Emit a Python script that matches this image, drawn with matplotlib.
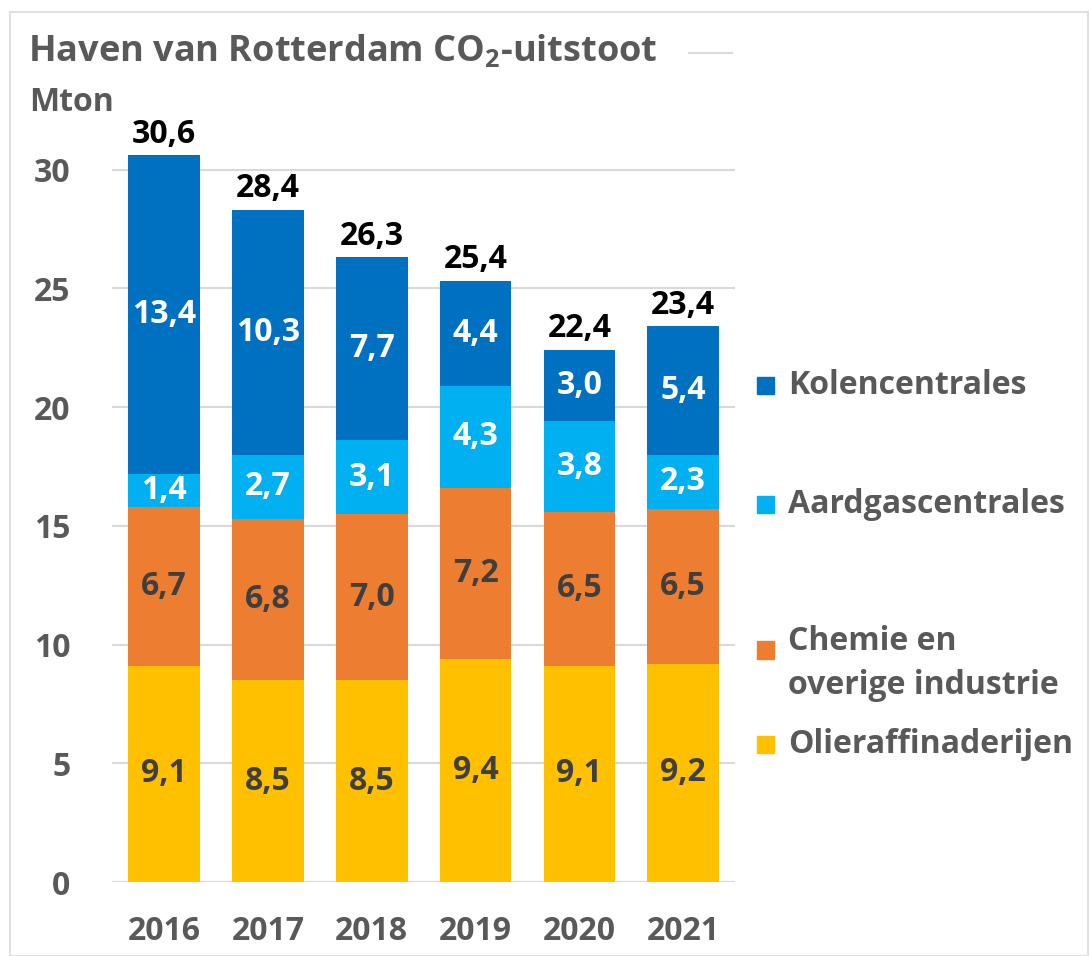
import numpy as np
from matplotlib import pyplot as plt
from matplotlib.patches import Rectangle

years = ['2016', '2017', '2018', '2019', '2020', '2021']
olie = [9.1, 8.5, 8.5, 9.4, 9.1, 9.2]
chemie = [6.7, 6.8, 7.0, 7.2, 6.5, 6.5]
aardgas = [1.4, 2.7, 3.1, 4.3, 3.8, 2.3]
kolen = [13.4, 10.3, 7.7, 4.4, 3.0, 5.4]
totals = [30.6, 28.4, 26.3, 25.4, 22.4, 23.4]

series = [
    ('Olieraffinaderijen', olie, '#FFC000', '#3F3F3F'),
    ('Chemie en\noverige industrie', chemie, '#ED7D31', '#3F3F3F'),
    ('Aardgascentrales', aardgas, '#00B0F0', 'white'),
    ('Kolencentrales', kolen, '#0070C0', 'white'),
]

plt.rcParams['font.family'] = ['Open Sans', 'DejaVu Sans']
grey = '#595959'
fs = 23

fig = plt.figure(figsize=(10.89, 9.56), dpi=100)
fig.patch.set_facecolor('white')
ax = fig.add_axes([0.103, 0.0774, 0.572, 0.77])

x = np.arange(len(years))
bottom = np.zeros(len(years))
for name, vals, color, tcol in series:
    vals = np.array(vals)
    ax.bar(x, vals, 0.69, bottom=bottom, color=color, zorder=3)
    for xi, b, v in zip(x, bottom, vals):
        ax.text(xi, b + v / 2, f'{v:.1f}'.replace('.', ','), ha='center', va='center',
                color=tcol, fontsize=fs, fontweight='bold', zorder=4)
    bottom = bottom + vals

for xi, top, t in zip(x, bottom, totals):
    ax.text(xi, top + 0.2, f'{t:.1f}'.replace('.', ','), ha='center', va='bottom',
            color='black', fontsize=fs, fontweight='bold', clip_on=False)

ax.set_xlim(-0.5, 5.5)
ax.set_ylim(0, 31)
ax.set_yticks([0, 5, 10, 15, 20, 25, 30])
ax.set_xticks(x)
ax.set_xticklabels(years)
ax.tick_params(length=0, labelsize=fs, labelcolor=grey)
ax.tick_params(axis='x', pad=24)
ax.tick_params(axis='y', pad=30)
for lab in ax.get_xticklabels() + ax.get_yticklabels():
    lab.set_fontweight('bold')
ax.grid(axis='y', color='#D9D9D9', linewidth=1.5, zorder=0)
ax.axhline(0, color='#D9D9D9', linewidth=1.5, zorder=1)
for s in ax.spines.values():
    s.set_visible(False)

fig.text(0.026, 0.946, r'Haven van Rotterdam CO$_\mathregular{2}$-uitstoot', fontsize=26,
         fontweight='bold', color=grey, va='center')
fig.add_artist(plt.Line2D([0.633, 0.672], [0.945, 0.945], color='#D9D9D9', linewidth=1.5))
fig.text(0.027, 0.893, 'Mton', fontsize=fs, fontweight='bold', color=grey, va='center')

# legend, top to bottom
leg_y = [0.597, 0.472, 0.32, 0.221]
for (name, vals, color, tcol), ly in zip(series, leg_y[::-1]):
    fig.add_artist(Rectangle((0.695, ly - 0.009), 0.016, 0.018, color=color,
                             transform=fig.transFigure))
    if '\n' in name:
        fig.text(0.724, 0.346, name, fontsize=fs, fontweight='bold', color=grey,
                 va='top', linespacing=1.45)
    else:
        fig.text(0.724, ly, name, fontsize=fs, fontweight='bold', color=grey, va='center')

fig.add_artist(Rectangle((0.009, 0.0), 0.99, 0.987, fill=False, edgecolor='#E0E0E0',
                         linewidth=1.5, transform=fig.transFigure))

fig.savefig('out.png', dpi=100)
